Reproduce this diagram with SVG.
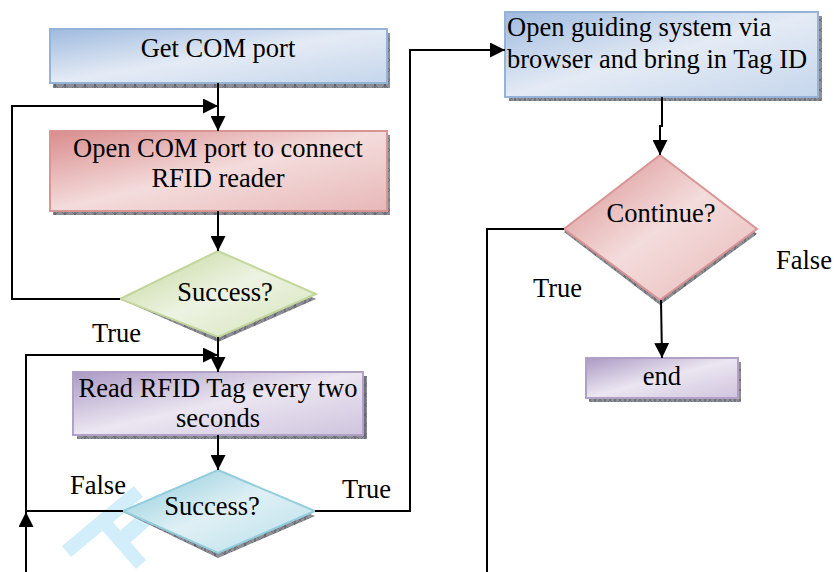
<svg xmlns="http://www.w3.org/2000/svg" width="834" height="572" viewBox="0 0 834 572">
<defs>
<style>
.t{font-family:"Liberation Serif","Times New Roman",serif;font-size:26.5px;fill:#000}
.c{text-anchor:middle}
.ln{fill:none;stroke:#000;stroke-width:2}
.sh{fill:url(#hatch)}
</style>
<pattern id="hatch" width="10" height="10" patternUnits="userSpaceOnUse">
<rect width="10" height="10" fill="#8e8e96"/>
<path d="M0 0L10 10M10 0L0 10" stroke="#6a6a72" stroke-width="0.8"/>
<path d="M5 0V10" stroke="#555560" stroke-width="1"/>
</pattern>
<marker id="ah" markerWidth="15" markerHeight="15" refX="15" refY="7.5" orient="auto" markerUnits="userSpaceOnUse">
<path d="M0 0L15 7.5L0 15Z" fill="#000"/>
</marker>
<linearGradient id="gBlue" x1="0" y1="0" x2="1" y2="1">
<stop offset="0" stop-color="#9fbadf"/><stop offset="0.5" stop-color="#e4ebf5"/><stop offset="1" stop-color="#c5d6ec"/>
</linearGradient>
<linearGradient id="gRed" x1="0" y1="0" x2="1" y2="1">
<stop offset="0" stop-color="#d98c8c"/><stop offset="0.5" stop-color="#f4dcdc"/><stop offset="1" stop-color="#e8b8b8"/>
</linearGradient>
<linearGradient id="gGreen" x1="0" y1="0" x2="1" y2="1">
<stop offset="0" stop-color="#c0d596"/><stop offset="0.5" stop-color="#edf3e2"/><stop offset="1" stop-color="#d4e3b8"/>
</linearGradient>
<linearGradient id="gPurple" x1="0" y1="0" x2="1" y2="1">
<stop offset="0" stop-color="#ab99c4"/><stop offset="0.5" stop-color="#ebe6f1"/><stop offset="1" stop-color="#cfc4de"/>
</linearGradient>
<linearGradient id="gTeal" x1="0" y1="0" x2="1" y2="1">
<stop offset="0" stop-color="#8ccadb"/><stop offset="0.5" stop-color="#dff0f5"/><stop offset="1" stop-color="#b7deea"/>
</linearGradient>
</defs>
<rect width="834" height="572" fill="#fff"/>

<g id="watermark" fill="#d3eefb">
<polygon points="62,546 134,486 143,497 71,557"/>
<polygon points="94,521 104,512 146,560 136,569"/>
<polygon points="112,538 166,490 176,502 122,550"/>
</g>

<g id="n1">
<rect class="sh" x="53" y="33" width="337" height="55"/>
<rect x="50" y="29" width="337" height="54" fill="url(#gBlue)" stroke="#95b3d7" stroke-width="2"/>
<text class="t c" x="218" y="57">Get COM port</text>
</g>

<g id="n2">
<rect class="sh" x="53" y="135" width="337" height="80"/>
<rect x="50" y="131" width="337" height="80" fill="url(#gRed)" stroke="#d99594" stroke-width="2"/>
<text class="t c" x="218" y="157">Open COM port to connect</text>
<text class="t c" x="218" y="187">RFID reader</text>
</g>

<g id="d1">
<polygon class="sh" points="218,256 316,299 218,342 120,299"/>
<polygon points="218,251 316,294 218,337 120,299" fill="url(#gGreen)" stroke="#c3d69b" stroke-width="2"/>
<text class="t c" x="225" y="301">Success?</text>
</g>

<g id="n3">
<rect class="sh" x="77" y="376" width="290" height="63"/>
<rect x="73" y="372" width="290" height="63" fill="url(#gPurple)" stroke="#b2a1c7" stroke-width="2"/>
<text class="t c" x="218" y="397">Read RFID Tag every two</text>
<text class="t c" x="218" y="427">seconds</text>
</g>

<g id="d2">
<polygon class="sh" points="218,475 315,516 218,558 123,512"/>
<polygon points="218,470 315,511 218,553 123,511" fill="url(#gTeal)" stroke="#92cddc" stroke-width="2"/>
<text class="t c" x="212" y="515">Success?</text>
</g>

<g id="n5">
<rect class="sh" x="509" y="16" width="313" height="85"/>
<rect x="505" y="12" width="313" height="85" fill="url(#gBlue)" stroke="#95b3d7" stroke-width="2"/>
<text class="t" x="507" y="36">Open guiding system via</text>
<text class="t" x="507" y="68">browser and bring in Tag ID</text>
</g>

<g id="d3">
<polygon class="sh" points="660,160 757,234 660,305 564,232"/>
<polygon points="660,155 757,229 660,300 564,229" fill="url(#gRed)" stroke="#d99594" stroke-width="2"/>
<text class="t c" x="661" y="222">Continue?</text>
</g>

<g id="n6">
<rect class="sh" x="589" y="362" width="152" height="40"/>
<rect x="586" y="358" width="152" height="40" fill="url(#gPurple)" stroke="#b2a1c7" stroke-width="2"/>
<text class="t c" x="662" y="385">end</text>
</g>

<g id="labels">
<text class="t" x="92" y="342">True</text>
<text class="t" x="70" y="494">False</text>
<text class="t" x="342" y="498">True</text>
<text class="t" x="533" y="297">True</text>
<text class="t" x="776" y="269">False</text>
</g>

<g id="connectors">
<path class="ln" d="M218 83V131" marker-end="url(#ah)"/>
<path class="ln" d="M120 299H12V106H218" marker-end="url(#ah)"/>
<path class="ln" d="M218 211V251" marker-end="url(#ah)"/>
<path class="ln" d="M218 337V372" marker-end="url(#ah)"/>
<path class="ln" d="M123 511H26V355H218" marker-end="url(#ah)"/>
<path class="ln" d="M26 572V512" marker-end="url(#ah)"/>
<path class="ln" d="M218 435V470" marker-end="url(#ah)"/>
<path class="ln" d="M315 511H410V50H505" marker-end="url(#ah)"/>
<path class="ln" d="M662 97V126H660V155" marker-end="url(#ah)"/>
<path class="ln" d="M564 229H487V572"/>
<path class="ln" d="M661 300L662 358" marker-end="url(#ah)"/>
</g>
</svg>
